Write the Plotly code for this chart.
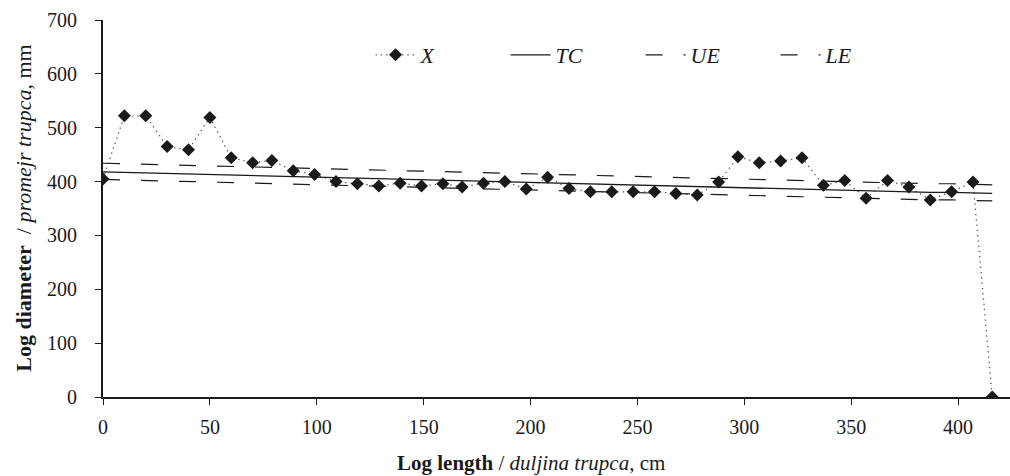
import plotly.graph_objects as go

# Measurement positions along the log (cm)
length_cm = [0, 10, 20, 30, 40, 50, 60, 70, 79, 89,
             99, 109, 119, 129, 139, 149, 159, 168, 178, 188,
             198, 208, 218, 228, 238, 248, 258, 268, 278, 288,
             297, 307, 317, 327, 337, 347, 357, 367, 377, 387,
             397, 407, 416]

# Measured log diameter X (mm)
diameter_x = [405, 522, 522, 465, 459, 519, 444, 435, 439, 420,
              413, 400, 396, 392, 397, 392, 396, 390, 397, 400,
              386, 408, 387, 381, 381, 381, 381, 378, 375, 399,
              446, 435, 438, 444, 393, 402, 369, 402, 390, 366,
              381, 399, 0]

# Taper curve TC and its upper / lower envelopes (mm)
taper_tc = [418, 417, 416, 415, 414, 413, 412, 411, 410, 409,
            408, 407, 406, 405, 405, 404, 403, 402, 401, 400,
            399, 398, 397, 396, 395, 394, 393, 392, 391, 390,
            389, 388, 387, 386, 385, 384, 383, 382, 381, 380,
            380, 379, 378]
upper_ue = [434, 433, 432, 431, 430, 429, 428, 427, 426, 425,
            424, 423, 422, 421, 421, 420, 419, 418, 417, 416,
            415, 414, 413, 412, 411, 410, 409, 408, 407, 406,
            405, 404, 403, 402, 401, 400, 399, 398, 397, 396,
            396, 395, 394]
lower_le = [404, 403, 402, 401, 400, 399, 398, 397, 396, 395,
            394, 393, 392, 391, 391, 390, 389, 388, 387, 386,
            385, 384, 383, 382, 381, 380, 379, 378, 377, 376,
            375, 374, 373, 372, 371, 370, 369, 368, 367, 366,
            366, 365, 364]

x_ticks = [0, 50, 100, 150, 200, 250, 300, 350, 400]
y_ticks = [0, 100, 200, 300, 400, 500, 600, 700]

FONT = "Liberation Serif"
INK = "#1a1a1a"
DASH = "17px,21px"

fig = go.Figure()
fig.add_trace(go.Scatter(
    x=length_cm, y=diameter_x, name="<i>X</i>", mode="lines+markers",
    line=dict(color="#555555", width=1.3, dash="1.3px,4px"),
    marker=dict(symbol="diamond", size=10, color=INK),
))
fig.add_trace(go.Scatter(
    x=length_cm, y=taper_tc, name="<i>TC</i>", mode="lines",
    line=dict(color=INK, width=1.3),
))
fig.add_trace(go.Scatter(
    x=length_cm, y=upper_ue, name="<i>UE</i>", mode="lines",
    line=dict(color=INK, width=1.2, dash=DASH),
))
fig.add_trace(go.Scatter(
    x=length_cm, y=lower_le, name="<i>LE</i>", mode="lines",
    line=dict(color=INK, width=1.2, dash=DASH),
))

fig.update_layout(
    width=1010, height=476,
    margin=dict(l=103, r=0, t=20, b=79),
    paper_bgcolor="white", plot_bgcolor="white",
    font=dict(family=FONT, size=20, color=INK),
    showlegend=True,
    legend=dict(
        orientation="h", x=0.295, y=0.907, xanchor="left", yanchor="middle",
        entrywidth=80, entrywidthmode="pixels",
        font=dict(family=FONT, size=22, color=INK),
        bgcolor="rgba(0,0,0,0)", itemwidth=40,
    ),
    xaxis=dict(
        range=[0, 424.3], tickvals=x_ticks, showgrid=False, zeroline=False,
        showline=True, linecolor=INK, linewidth=1.8,
        ticks="outside", ticklen=6, tickcolor=INK, tickwidth=1,
        tickfont=dict(family=FONT, size=20, color=INK),
        ticklabelstandoff=5,
    ),
    yaxis=dict(
        range=[0, 700], tickvals=y_ticks, showgrid=False, zeroline=False,
        showline=True, linecolor=INK, linewidth=1.8,
        ticks="outside", ticklen=6, tickcolor=INK, tickwidth=1,
        tickfont=dict(family=FONT, size=20, color=INK),
        ticklabelstandoff=14,
    ),
    annotations=[
        dict(text="<b>Log length</b> / <i>duljina trupca</i>, cm",
             xref="paper", yref="paper", x=0.472, y=-0.137,
             xanchor="center", yanchor="top", showarrow=False,
             font=dict(family=FONT, size=21, color=INK)),
        dict(text="<b>Log diameter</b>  / <i>promejr trupca</i>, mm",
             xref="paper", yref="paper", x=-0.088, y=0.5,
             xanchor="center", yanchor="middle", showarrow=False,
             textangle=-90,
             font=dict(family=FONT, size=22, color=INK)),
    ],
)

fig.write_html("out.html")
